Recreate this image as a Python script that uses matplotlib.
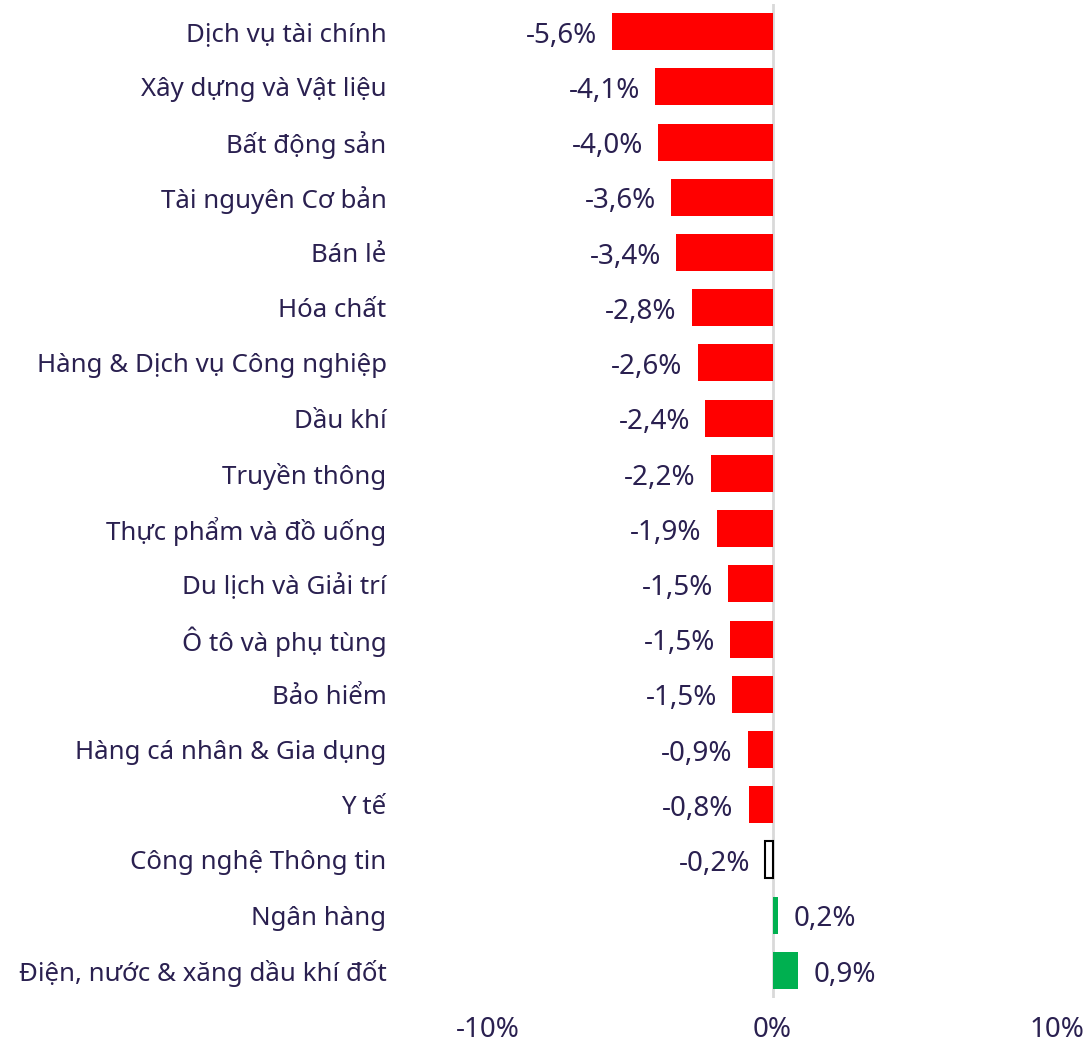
import matplotlib.pyplot as plt

# sectors, top to bottom
sectors = ['Dịch vụ tài chính', 'Xây dựng và Vật liệu', 'Bất động sản', 'Tài nguyên Cơ bản',
           'Bán lẻ', 'Hóa chất', 'Hàng & Dịch vụ Công nghiệp', 'Dầu khí', 'Truyền thông',
           'Thực phẩm và đồ uống', 'Du lịch và Giải trí', 'Ô tô và phụ tùng', 'Bảo hiểm',
           'Hàng cá nhân & Gia dụng', 'Y tế', 'Công nghệ Thông tin', 'Ngân hàng',
           'Điện, nước & xăng dầu khí đốt']
# bar lengths (%)
values = [-5.63, -4.12, -4.02, -3.56, -3.39, -2.83, -2.62, -2.36, -2.16, -1.95,
          -1.56, -1.49, -1.42, -0.86, -0.83, -0.25, 0.19, 0.91]
labels = ['-5,6%', '-4,1%', '-4,0%', '-3,6%', '-3,4%', '-2,8%', '-2,6%', '-2,4%', '-2,2%',
          '-1,9%', '-1,5%', '-1,5%', '-1,5%', '-0,9%', '-0,8%', '-0,2%', '0,2%', '0,9%']
xticks = [-10, 0, 10]
xtick_labels = ['-10%', '0%', '10%']

txt_color = '#2a2050'
plt.rcParams['font.family'] = ['Noto Sans', 'DejaVu Sans']

fig = plt.figure(figsize=(10.92, 10.44), dpi=100)
ax = fig.add_axes([488 / 1092, 1 - 998 / 1044, (1057 - 488) / 1092, 994 / 1044])

y = list(range(len(sectors)))
for i, v in enumerate(values):
    if v > 0:
        fc, ec, lw = '#00b050', 'none', 0
    elif labels[i] == '-0,2%':
        fc, ec, lw = 'white', 'black', 1.5
    else:
        fc, ec, lw = '#ff0000', 'none', 0
    ax.barh(y[i], v, height=0.67, color=fc, edgecolor=ec, linewidth=lw, zorder=2)
    off = 11 if v > 0 else -11
    ax.annotate(labels[i], (v, y[i]), xytext=(off, -3), textcoords='offset points',
                ha='left' if v > 0 else 'right', va='center', fontsize=20, color=txt_color)

ax.axvline(0, color='#d9d9d9', lw=2, zorder=1)
ax.set_xlim(-10, 10)
ax.set_ylim(len(sectors) - 0.5, -0.5)
ax.set_yticks(y)
ax.set_yticklabels(sectors)
ax.set_xticks(xticks)
ax.set_xticklabels(xtick_labels)
ax.tick_params(axis='y', length=0, pad=73, labelsize=18.6, labelcolor=txt_color)
ax.tick_params(axis='x', length=0, pad=13, labelsize=20, labelcolor=txt_color)
for s in ax.spines.values():
    s.set_visible(False)

fig.savefig('out.png', dpi=100)
